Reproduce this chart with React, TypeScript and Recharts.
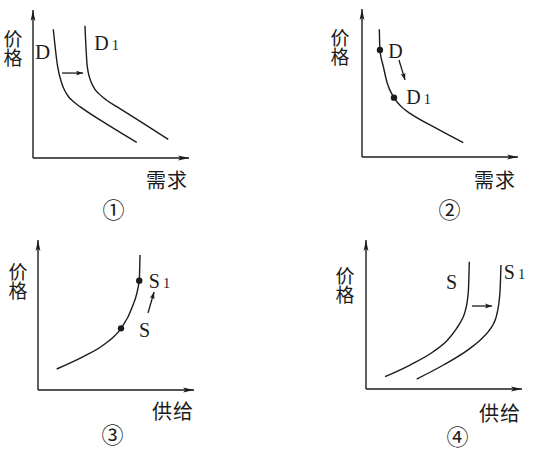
import React from "react"
import { LineChart, Line, XAxis, YAxis, ReferenceDot, ReferenceLine } from "recharts"

const W = 156
const INK = "#1c1c1c"
const CJK = '"Noto Sans CJK SC", sans-serif'
const SERIF = '"Liberation Serif", "Times New Roman", serif'

// ① demand curve D shifts right to D1
const p1D = [
  { x: 13.0, y: 87.0 },
  { x: 15.8, y: 61.7 },
  { x: 18.4, y: 50.5 },
  { x: 20.4, y: 45.4 },
  { x: 22.8, y: 41.4 },
  { x: 26.2, y: 37.8 },
  { x: 30.1, y: 34.7 },
  { x: 42.9, y: 25.7 },
  { x: 56.9, y: 16.7 },
  { x: 66.5, y: 10.6 },
]
const p1D1 = [
  { x: 33.3, y: 89.4 },
  { x: 34.8, y: 61.7 },
  { x: 37.6, y: 50.5 },
  { x: 39.6, y: 46.6 },
  { x: 42.2, y: 43.5 },
  { x: 47.0, y: 39.2 },
  { x: 53.7, y: 34.7 },
  { x: 70.7, y: 23.4 },
  { x: 86.7, y: 12.6 },
]
const p1Arrow = [{ x: 18.6, y: 57.4 }, { x: 32.1, y: 57.4 }]

// ② movement along one demand curve
const p2Curve = [
  { x: 11.1, y: 86.3 },
  { x: 11.5, y: 72.3 },
  { x: 13.7, y: 61.0 },
  { x: 16.2, y: 49.8 },
  { x: 20.5, y: 40.1 },
  { x: 25.0, y: 34.2 },
  { x: 30.8, y: 29.5 },
  { x: 45.7, y: 20.5 },
  { x: 64.9, y: 9.7 },
]
const p2Dots = [{ x: 11.5, y: 72.3 }, { x: 20.5, y: 40.1 }]
const p2Arrow = [{ x: 23.7, y: 65.5 }, { x: 27.6, y: 52.0 }]

// ③ movement along one supply curve
const p3Curve = [
  { x: 12.0, y: 14.0 },
  { x: 29.0, y: 22.2 },
  { x: 41.9, y: 30.0 },
  { x: 53.2, y: 41.1 },
  { x: 60.1, y: 54.5 },
  { x: 64.9, y: 72.9 },
  { x: 65.4, y: 90.0 },
]
const p3Dots = [{ x: 53.2, y: 41.1 }, { x: 64.9, y: 72.9 }]
const p3Arrow = [{ x: 70.5, y: 51.3 }, { x: 74.4, y: 65.3 }]

// ④ supply curve S shifts right to S1
const p4S = [
  { x: 12.2, y: 8.3 },
  { x: 28.2, y: 16.1 },
  { x: 43.1, y: 25.0 },
  { x: 52.0, y: 32.5 },
  { x: 58.1, y: 40.7 },
  { x: 61.6, y: 46.8 },
  { x: 63.5, y: 51.9 },
  { x: 65.6, y: 65.3 },
  { x: 66.2, y: 85.4 },
]
const p4S1 = [
  { x: 32.5, y: 6.7 },
  { x: 49.6, y: 16.1 },
  { x: 66.7, y: 27.3 },
  { x: 74.0, y: 33.6 },
  { x: 78.4, y: 38.5 },
  { x: 81.8, y: 44.0 },
  { x: 83.8, y: 49.7 },
  { x: 85.9, y: 65.3 },
  { x: 86.5, y: 83.2 },
]
const p4Arrow = [{ x: 67.9, y: 55.7 }, { x: 80.8, y: 55.7 }]

type Pt = { x: number; y: number }

function Panel({ id, ox, oy, h, curves, dots = [], arrow }: {
  id: string; ox: number; oy: number; h: number; curves: Pt[][]; dots?: Pt[]; arrow: Pt[]
}) {
  const m = 12
  const axisLine = { stroke: INK, strokeWidth: 1.4 }
  return (
    <div style={{ position: "absolute", left: ox - m, top: oy - h - m }}>
      <LineChart width={W + 2 * m} height={h + 2 * m} margin={{ top: m, right: m, bottom: m - 1, left: m - 1 }}>
        <defs>
          <marker id={`${id}-ax`} markerUnits="userSpaceOnUse" markerWidth={12} markerHeight={6}
            refX={11} refY={3} orient="auto-start-reverse">
            <path d="M0,0.6 L11,3 L0,5.4 L2.5,3 Z" fill={INK} />
          </marker>
          <marker id={`${id}-sm`} markerUnits="userSpaceOnUse" markerWidth={8} markerHeight={6}
            refX={7} refY={3} orient="auto">
            <path d="M0,0.6 L7,3 L0,5.4 L1.5,3 Z" fill={INK} />
          </marker>
        </defs>
        <XAxis type="number" dataKey="x" domain={[0, 100]} height={1} tick={false} tickLine={false}
          allowDataOverflow axisLine={{ ...axisLine, markerEnd: `url(#${id}-ax)` }} />
        <YAxis type="number" domain={[0, 100]} width={1} tick={false} tickLine={false}
          allowDataOverflow axisLine={{ ...axisLine, markerStart: `url(#${id}-ax)` }} />
        {curves.map((c, i) => (
          <Line key={i} data={c} dataKey="y" type="monotone" stroke={INK} strokeWidth={1.4}
            dot={false} isAnimationActive={false} />
        ))}
        <ReferenceLine
          segment={[arrow[0], arrow[1]]}
          shape={(p: any) => (
            <line x1={p.x1} y1={p.y1} x2={p.x2} y2={p.y2} stroke={INK} strokeWidth={1.3}
              markerEnd={`url(#${id}-sm)`} />
          )}
        />
        {dots.map((d, i) => (
          <ReferenceDot key={i} x={d.x} y={d.y} r={3.2} fill={INK} stroke="none" />
        ))}
      </LineChart>
    </div>
  )
}

function T({ x, y, size = 20, font = CJK, vertical = false, children }: any) {
  return (
    <div style={{
      position: "absolute", left: x, top: y, transform: "translate(-50%, -50%)",
      fontFamily: font, fontSize: size, lineHeight: 1, color: INK, whiteSpace: "nowrap",
      writingMode: vertical ? "vertical-rl" : undefined, letterSpacing: vertical ? 0 : 1,
    }}>{children}</div>
  )
}

function Sub({ base, sub }: { base: string; sub: string }) {
  return (
    <span>{base}<span style={{ fontSize: "0.72em", marginLeft: 2 }}>{sub}</span></span>
  )
}

export default function App() {
  return (
    <div style={{ position: "absolute", left: 0, top: 0, width: 539, height: 450, background: "#fff", overflow: "hidden" }}>
      <Panel id="p1" ox={33} oy={158} h={148} curves={[p1D, p1D1]} arrow={p1Arrow} />
      <Panel id="p2" ox={362} oy={157} h={148} curves={[p2Curve]} dots={p2Dots} arrow={p2Arrow} />
      <Panel id="p3" ox={38} oy={390} h={150} curves={[p3Curve]} dots={p3Dots} arrow={p3Arrow} />
      <Panel id="p4" ox={366} oy={389} h={149} curves={[p4S, p4S1]} arrow={p4Arrow} />

      <T x={13} y={48} size={19} vertical>价格</T>
      <T x={340} y={47} size={19} vertical>价格</T>
      <T x={18} y={281} size={19} vertical>价格</T>
      <T x={345} y={285} size={19} vertical>价格</T>

      <T x={167} y={180}>需求</T>
      <T x={495} y={180}>需求</T>
      <T x={173} y={411}>供给</T>
      <T x={500} y={413}>供给</T>

      <T x={114} y={208} size={22}>①</T>
      <T x={450} y={208} size={22}>②</T>
      <T x={113} y={433} size={22}>③</T>
      <T x={458} y={435} size={22}>④</T>

      <T x={43} y={52} size={21} font={SERIF}>D</T>
      <T x={107} y={43} size={20} font={SERIF}><Sub base="D" sub="1" /></T>
      <T x={396} y={51} size={20} font={SERIF}>D</T>
      <T x={419} y={97} size={20} font={SERIF}><Sub base="D" sub="1" /></T>
      <T x={160} y={281} size={20} font={SERIF}><Sub base="S" sub="1" /></T>
      <T x={145} y={330} size={20} font={SERIF}>S</T>
      <T x={452} y={282} size={20} font={SERIF}>S</T>
      <T x={515} y={272} size={20} font={SERIF}><Sub base="S" sub="1" /></T>
    </div>
  )
}
